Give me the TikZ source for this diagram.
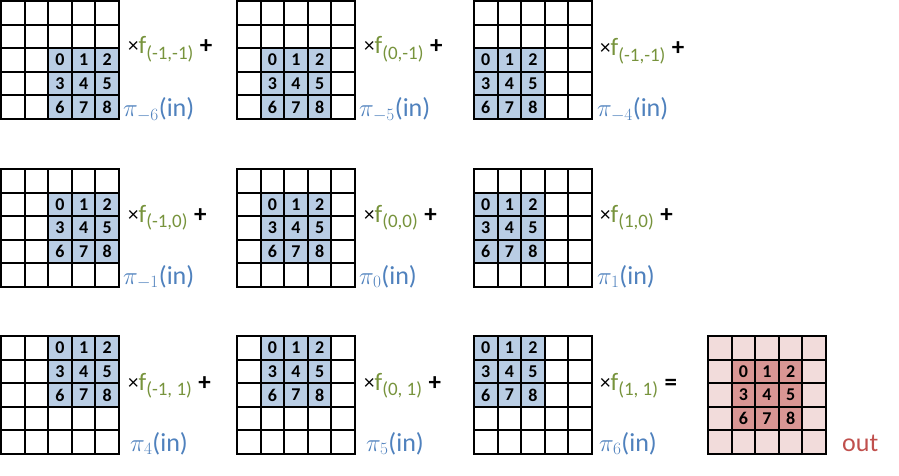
\documentclass[tikz,border=0pt]{standalone}
\usepackage{fontspec}
\setmainfont{Carlito}
\definecolor{pblue}{RGB}{185,205,228}
\definecolor{tblue}{RGB}{79,129,189}
\definecolor{tgreen}{RGB}{119,147,60}
\definecolor{rlight}{RGB}{242,220,219}
\definecolor{rdark}{RGB}{217,150,148}
\definecolor{tred}{RGB}{192,80,77}
\newcommand\mygrid[6]{%
  \fill[#6] (#1,#2) rectangle ++(118,118);
  \fill[#5] ({#1+#3*23.6},{#2+#4*23.6}) rectangle ++(70.8,70.8);
  \foreach \k in {0,...,8}{
    \pgfmathtruncatemacro\cc{mod(\k,3)}\pgfmathtruncatemacro\rr{div(\k,3)}
    \node[digit] at ({#1+(#3+\cc+0.5)*23.6},{#2+(#4+\rr+0.5)*23.6}) {\k};}
  \foreach \i in {0,...,5}{
    \draw[gridline] ({#1+\i*23.6},#2) -- ++(0,118);
    \draw[gridline] (#1,{#2+\i*23.6}) -- ++(118,0);}
}
\tikzset{digit/.style={font=\fontsize{18}{18}\selectfont\bfseries,inner sep=0pt},
 gridline/.style={line width=2pt,line cap=rect},
 fl/.style={anchor=base west,inner sep=0pt,font=\fontsize{25}{25}\selectfont},
 pl/.style={anchor=base west,inner sep=0pt,text=tblue,font=\fontsize{26}{26}\selectfont}}
\newcommand\ff[1]{\textcolor{black}{\fontsize{21}{21}\selectfont\raisebox{1pt}{×}}\textcolor{tgreen}{f\textsubscript{\fontsize{19}{19}\selectfont(#1)}}}
\newcommand\pp[1]{$\pi_{#1}$(in)}
\newcommand\plus{\hspace{6pt}\textbf{+}}
\begin{document}
\begin{tikzpicture}[x=1pt,y=-1pt]
\useasboundingbox (0,0) rectangle (899,476);
% row 1
\mygrid{1}{1}{2}{2}{pblue}{white}
\mygrid{237}{1}{1}{2}{pblue}{white}
\mygrid{474}{1}{0}{2}{pblue}{white}
% row 2
\mygrid{1}{169}{2}{1}{pblue}{white}
\mygrid{237}{169}{1}{1}{pblue}{white}
\mygrid{474}{169}{0}{1}{pblue}{white}
% row 3
\mygrid{1}{336}{2}{0}{pblue}{white}
\mygrid{237}{336}{1}{0}{pblue}{white}
\mygrid{474}{336}{0}{0}{pblue}{white}
\mygrid{708}{336}{1}{1}{rdark}{rlight}
% factor labels
\node[fl] (f1) at (128,54) {\ff{-1,-1}\plus};
\node[fl] (f2) at (364,54) {\ff{0,-1}\plus};
\node[fl] (f3) at (600,56) {\ff{-1,-1}\plus};
\node[fl] (f4) at (128,222) {\ff{-1,0}\plus};
\node[fl] (f5) at (364,222) {\ff{0,0}\plus};
\node[fl] (f6) at (600,222) {\ff{1,0}\plus};
\node[fl] (f7) at (128,390) {\ff{-1, 1}\plus};
\node[fl] (f8) at (364,390) {\ff{0, 1}\plus};
\node[fl] (f9) at (600,390) {\ff{1, 1}\hspace{6pt}\textbf{=}};
% pi labels
\node[pl] (p1) at (123,117) {\pp{-6}};
\node[pl] (p2) at (359,117) {\pp{-5}};
\node[pl] (p3) at (597,117) {\pp{-4}};
\node[pl] (p4) at (123,284) {\pp{-1}};
\node[pl] (p5) at (359,284) {\pp{0}};
\node[pl] (p6) at (597,284) {\pp{1}};
\node[pl] (p7) at (130,451) {\pp{4}};
\node[pl] (p8) at (366,451) {\pp{5}};
\node[pl] (p9) at (599,451) {\pp{6}};
\node[pl,text=tred] (out) at (842,451) {out};
\end{tikzpicture}
\end{document}
